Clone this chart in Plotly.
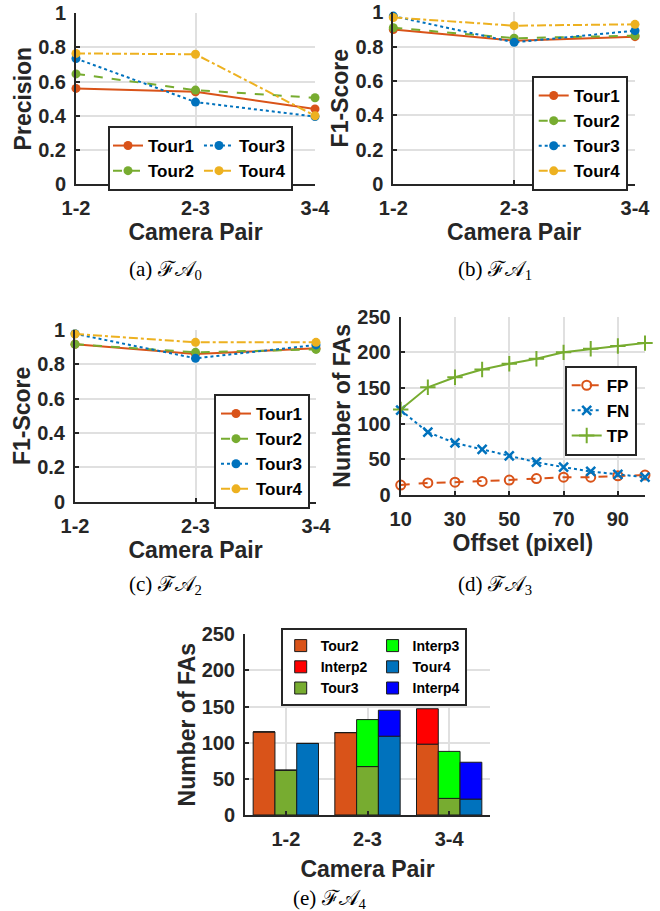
import plotly.graph_objects as go

# ---------------- data ----------------
pairs = ["1-2", "2-3", "3-4"]
tour_names = ["Tour1", "Tour2", "Tour3", "Tour4"]

fa0_tour1 = [0.56, 0.54, 0.44]
fa0_tour2 = [0.645, 0.55, 0.505]
fa0_tour3 = [0.735, 0.48, 0.395]
fa0_tour4 = [0.765, 0.76, 0.40]

fa1_tour1 = [0.90, 0.835, 0.858]
fa1_tour2 = [0.91, 0.849, 0.864]
fa1_tour3 = [0.978, 0.825, 0.893]
fa1_tour4 = [0.97, 0.922, 0.93]

fa2_tour1 = [0.917, 0.86, 0.893]
fa2_tour2 = [0.917, 0.87, 0.887]
fa2_tour3 = [0.978, 0.835, 0.913]
fa2_tour4 = [0.977, 0.928, 0.928]

offsets = [10, 20, 30, 40, 50, 60, 70, 80, 90, 100]
fa3_fp = [14, 17, 18, 19, 21, 23, 25, 25, 27, 28]
fa3_fn = [119, 88, 73, 64, 55, 46, 39, 33, 29, 25]
fa3_tp = [120, 151, 165, 176, 184, 191, 200, 205, 209, 213]

fa4_tour2 = [115, 114, 98]
fa4_interp2 = [0, 0, 49]
fa4_tour3 = [62, 67, 23]
fa4_interp3 = [0, 65, 65]
fa4_tour4 = [99, 109, 22]
fa4_interp4 = [0, 36, 51]

# ---------------- styles ----------------
C_ORANGE = "#D95319"
C_GREEN = "#77AC30"
C_BLUE = "#0072BD"
C_YELLOW = "#EDB120"
TXT = "#262626"
GRID = "#e0e0e0"
FONT = "Liberation Sans"

tour_colors = [C_ORANGE, C_GREEN, C_BLUE, C_YELLOW]
tour_dashes = ["solid", "dash", "dot", "dashdot"]

W, H = 660, 911

fig = go.Figure()

def add_tours(series, xa, ya, legend, groups=None):
    for i, (name, vals) in enumerate(zip(tour_names, series)):
        fig.add_trace(go.Scatter(
            x=pairs, y=vals, name=name, mode="lines+markers",
            xaxis=xa, yaxis=ya, legend=legend,
            legendgroup=(groups[i] if groups else None),
            line=dict(color=tour_colors[i], width=2, dash=tour_dashes[i]),
            marker=dict(color=tour_colors[i], size=9, symbol="circle"),
            cliponaxis=False,
        ))

add_tours([fa0_tour1, fa0_tour2, fa0_tour3, fa0_tour4], "x", "y", "legend",
          groups=["c1", "c1", "c2", "c2"])
add_tours([fa1_tour1, fa1_tour2, fa1_tour3, fa1_tour4], "x2", "y2", "legend2")
add_tours([fa2_tour1, fa2_tour2, fa2_tour3, fa2_tour4], "x3", "y3", "legend3")

# (d)
fig.add_trace(go.Scatter(
    x=offsets, y=fa3_fp, name="FP", mode="lines+markers", xaxis="x4", yaxis="y4",
    legend="legend4", cliponaxis=False,
    line=dict(color=C_ORANGE, width=2, dash="dash"),
    marker=dict(symbol="circle-open", size=9, color=C_ORANGE, line=dict(width=2, color=C_ORANGE)),
))
fig.add_trace(go.Scatter(
    x=offsets, y=fa3_fn, name="FN", mode="lines+markers", xaxis="x4", yaxis="y4",
    legend="legend4", cliponaxis=False,
    line=dict(color=C_BLUE, width=2, dash="dot"),
    marker=dict(symbol="x-thin", size=9, color=C_BLUE, line=dict(width=2.5, color=C_BLUE)),
))
fig.add_trace(go.Scatter(
    x=offsets, y=fa3_tp, name="TP", mode="lines+markers", xaxis="x4", yaxis="y4",
    legend="legend4", cliponaxis=False,
    line=dict(color=C_GREEN, width=2, dash="solid"),
    marker=dict(symbol="cross-thin", size=11, color=C_GREEN, line=dict(width=2, color=C_GREEN)),
))

# (e)
bar_specs = [
    ("Tour2", fa4_tour2, None, C_ORANGE, "a", "c1"),
    ("Interp2", fa4_interp2, fa4_tour2, "#FF0000", "a", "c1"),
    ("Tour3", fa4_tour3, None, C_GREEN, "b", "c1"),
    ("Interp3", fa4_interp3, fa4_tour3, "#00FF00", "b", "c2"),
    ("Tour4", fa4_tour4, None, C_BLUE, "c", "c2"),
    ("Interp4", fa4_interp4, fa4_tour4, "#0000FF", "c", "c2"),
]
for name, vals, base, col, og, lg in bar_specs:
    fig.add_trace(go.Bar(
        x=pairs, y=vals, base=base, name=name, xaxis="x5", yaxis="y5",
        offsetgroup=og, legend="legend5", legendgroup=lg,
        marker=dict(color=col, line=dict(color="#1a1a1a", width=1)),
    ))

# ---------------- layout ----------------
def xdom(l, r):
    return [l / W, r / W]

def ydom(top, bottom):
    return [1 - bottom / H, 1 - top / H]

tickfont = dict(family=FONT, size=20, color=TXT, weight="bold")
titlefont = dict(family=FONT, size=23, color=TXT, weight="bold")

def xaxis_cfg(dom, anchor, title, standoff=5, **kw):
    d = dict(domain=dom, anchor=anchor, automargin=False, showline=True,
             linecolor=TXT, linewidth=2,
             ticks="inside", ticklen=4, tickwidth=1.5, tickcolor=TXT,
             showgrid=True, gridcolor=GRID, gridwidth=1.5, zeroline=False,
             tickfont=tickfont, ticklabelstandoff=5,
             title=dict(text=title, font=titlefont, standoff=standoff))
    d.update(kw)
    return d

def yaxis_cfg(dom, anchor, title, **kw):
    d = dict(domain=dom, anchor=anchor, automargin=False, showline=True,
             linecolor=TXT, linewidth=2,
             ticks="inside", ticklen=4, tickwidth=1.5, tickcolor=TXT,
             showgrid=True, gridcolor=GRID, gridwidth=1.5, zeroline=False,
             tickfont=tickfont, ticklabelstandoff=4,
             title=dict(text=title, font=titlefont, standoff=0))
    d.update(kw)
    return d

prob_y = dict(range=[0, 1], tickvals=[0, 0.2, 0.4, 0.6, 0.8, 1],
              ticktext=["0", "0.2", "0.4", "0.6", "0.8", "1"])
cat_x = dict(type="category", range=[0, 2])

legfont = dict(family=FONT, size=17, color="black", weight="bold")
leg_common = dict(bgcolor="white", bordercolor=TXT, borderwidth=2, font=legfont,
                  itemwidth=30)

fig.update_layout(
    width=W, height=H, margin=dict(l=0, r=0, t=0, b=0),
    paper_bgcolor="white", plot_bgcolor="white",
    barmode="group", bargap=0.2, bargroupgap=0,
    xaxis=xaxis_cfg(xdom(76, 315), "y", "Camera Pair", **cat_x),
    yaxis=yaxis_cfg(ydom(13.3, 184), "x", "Precision", **prob_y),
    xaxis2=xaxis_cfg(xdom(393.3, 635), "y2", "Camera Pair", **cat_x),
    yaxis2=yaxis_cfg(ydom(12.3, 184), "x2", "F1-Score", **prob_y),
    xaxis3=xaxis_cfg(xdom(75, 316), "y3", "Camera Pair", **cat_x),
    yaxis3=yaxis_cfg(ydom(330, 501.7), "x3", "F1-Score", **prob_y),
    xaxis4=xaxis_cfg(xdom(400.7, 645), "y4", "Offset (pixel)", range=[10, 100],
                     tickvals=[10, 30, 50, 70, 90]),
    yaxis4=yaxis_cfg(ydom(316.7, 495), "x4", "Number of FAs", range=[0, 250],
                     tickvals=[0, 50, 100, 150, 200, 250]),
    xaxis5=xaxis_cfg(xdom(245, 490), "y5", "Camera Pair", standoff=12, type="category",
                     range=[-0.5, 2.5], ticklabelstandoff=5),
    yaxis5=yaxis_cfg(ydom(634.3, 815), "x5", "Number of FAs", range=[0, 250],
                     tickvals=[0, 50, 100, 150, 200, 250]),
    legend=dict(leg_common, orientation="h", traceorder="grouped",
                x=108 / W, y=1 - 126 / H, xanchor="left", yanchor="top"),
    legend2=dict(leg_common, x=627.7 / W, y=1 - 76 / H, xanchor="right", yanchor="top"),
    legend3=dict(leg_common, x=310 / W, y=1 - 394 / H, xanchor="right", yanchor="top"),
    legend4=dict(leg_common, x=636.7 / W, y=1 - 365.7 / H, xanchor="right", yanchor="top"),
    legend5=dict(bgcolor="white", bordercolor=TXT, borderwidth=2,
                 font=dict(family=FONT, size=14, color="black", weight="bold"),
                 orientation="h", traceorder="grouped", itemwidth=30,
                 x=280.7 / W, y=1 - 706 / H, xanchor="left", yanchor="bottom"),
    showlegend=True,
)

captions = [
    ("(a) ℱ𝒜<sub>0</sub>", 165, 270),
    ("(b) ℱ𝒜<sub>1</sub>", 495, 270),
    ("(c) ℱ𝒜<sub>2</sub>", 165, 585),
    ("(d) ℱ𝒜<sub>3</sub>", 495, 585),
    ("(e) ℱ𝒜<sub>4</sub>", 330, 899),
]
for text, cx, cy in captions:
    fig.add_annotation(text=text, x=cx / W, y=1 - cy / H, xref="paper", yref="paper",
                       showarrow=False, xanchor="center", yanchor="middle",
                       font=dict(family="Liberation Serif", size=21, color="black"))

fig.write_html("out.html", config={"displayModeBar": False},
               post_script="document.body.style.margin='0px';")
